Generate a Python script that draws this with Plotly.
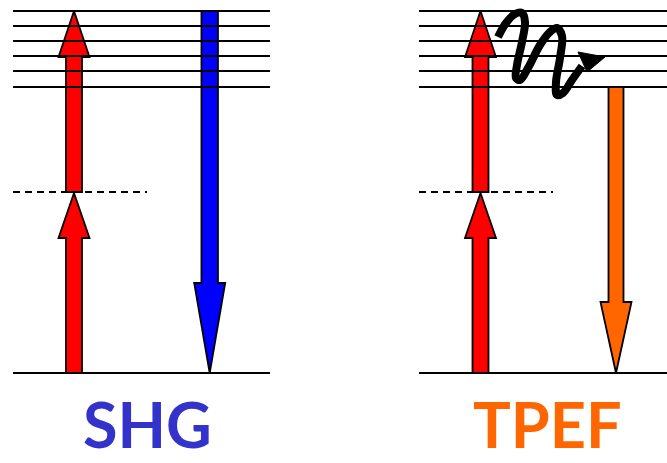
import plotly.graph_objects as go

# two panels: SHG (left) and TPEF (right), drawn in pixel-like units
panel_names = ["SHG", "TPEF"]
panel_colors = ["#3333CC", "#FF6600"]
panel_x0 = [13, 419]          # left end of level lines
panel_x1 = [270, 667]         # right end of level lines
dash_x1 = [147, 553]          # right end of the virtual level

level_y = [11, 26, 41, 56, 71, 87]   # vibrational levels of excited state
ground_y = 373
virtual_y = 192

# excitation arrows (two photons) : x centre per panel
pump_x = [74, 480.5]
# emission arrows
emit_x = [209.7, 616]
emit_top = [11, 87]
emit_colors = ["#0000FF", "#FF6600"]
emit_shaft_w = [16.5, 15]

# wavy relaxation path (TPEF panel only)
wave_x = [498, 506, 515, 522, 525, 522, 517, 516, 520, 528, 540, 550, 557, 562, 560, 556, 557, 563, 572, 582]
wave_y = [37, 23, 14, 13, 22, 42, 65, 78, 80, 68, 45, 32, 28, 36, 58, 82, 95, 93, 80, 66]
wave_head_x = [578, 605, 587]
wave_head_y = [52, 57, 72]

label_y = 462
label_x = [147, 547]


def arrow(xc, y_tail, y_tip, shaft_w, head_w, head_len):
    d = 1 if y_tip > y_tail else -1
    yb = y_tip - d * head_len
    xs = [xc - shaft_w / 2, xc - shaft_w / 2, xc - head_w / 2, xc, xc + head_w / 2,
          xc + shaft_w / 2, xc + shaft_w / 2, xc - shaft_w / 2]
    ys = [y_tail, yb, yb, y_tip, yb, yb, y_tail, y_tail]
    return xs, ys


fig = go.Figure()

for i in range(2):
    # lower red arrow: ground -> virtual level
    xs, ys = arrow(pump_x[i], ground_y, virtual_y + 1, 16, 31, 45)
    fig.add_trace(go.Scatter(x=xs, y=ys, fill="toself", fillcolor="#FF0000", mode="lines",
                             line=dict(color="black", width=1.8), hoverinfo="skip"))
    # upper red arrow: virtual -> top level
    xs, ys = arrow(pump_x[i], virtual_y, level_y[0], 16, 31, 46)
    fig.add_trace(go.Scatter(x=xs, y=ys, fill="toself", fillcolor="#FF0000", mode="lines",
                             line=dict(color="black", width=1.8), hoverinfo="skip"))
    # emission arrow
    xs, ys = arrow(emit_x[i], emit_top[i], ground_y, emit_shaft_w[i], 31, 90 if i == 0 else 71)
    fig.add_trace(go.Scatter(x=xs, y=ys, fill="toself", fillcolor=emit_colors[i], mode="lines",
                             line=dict(color="black", width=1.8), hoverinfo="skip"))

    # level lines on top of arrows
    for ly in level_y:
        fig.add_trace(go.Scatter(x=[panel_x0[i], panel_x1[i]], y=[ly, ly], mode="lines",
                                 line=dict(color="black", width=2), hoverinfo="skip"))
    fig.add_trace(go.Scatter(x=[panel_x0[i], panel_x1[i]], y=[ground_y, ground_y], mode="lines",
                             line=dict(color="black", width=2), hoverinfo="skip"))
    fig.add_trace(go.Scatter(x=[panel_x0[i], dash_x1[i]], y=[virtual_y, virtual_y], mode="lines",
                             line=dict(color="black", width=2, dash="7px,5px"), hoverinfo="skip"))

    fig.add_annotation(x=label_x[i], y=label_y, xref="x", yref="y", yanchor="bottom",
                       text="<b>" + panel_names[i] + "</b>", showarrow=False, borderpad=0,
                       font=dict(family="Comic Sans MS, Lato", size=63, color=panel_colors[i]))

# wavy non-radiative relaxation
fig.add_trace(go.Scatter(x=wave_x, y=wave_y, mode="lines", line=dict(color="black", width=8, shape="spline"),
                         hoverinfo="skip"))
fig.add_trace(go.Scatter(x=wave_head_x + [wave_head_x[0]], y=wave_head_y + [wave_head_y[0]], fill="toself",
                         fillcolor="black", mode="lines", line=dict(color="black", width=1), hoverinfo="skip"))

fig.update_layout(width=667, height=463, margin=dict(l=0, r=0, t=0, b=0, pad=0),
                  plot_bgcolor="white", paper_bgcolor="white", showlegend=False)
fig.update_xaxes(range=[0, 667], visible=False, fixedrange=True)
fig.update_yaxes(range=[463, 0], visible=False, fixedrange=True)

fig.write_html("out.html", config={"displayModeBar": False},
               post_script="document.body.style.margin='0';document.body.style.overflow='hidden';")
